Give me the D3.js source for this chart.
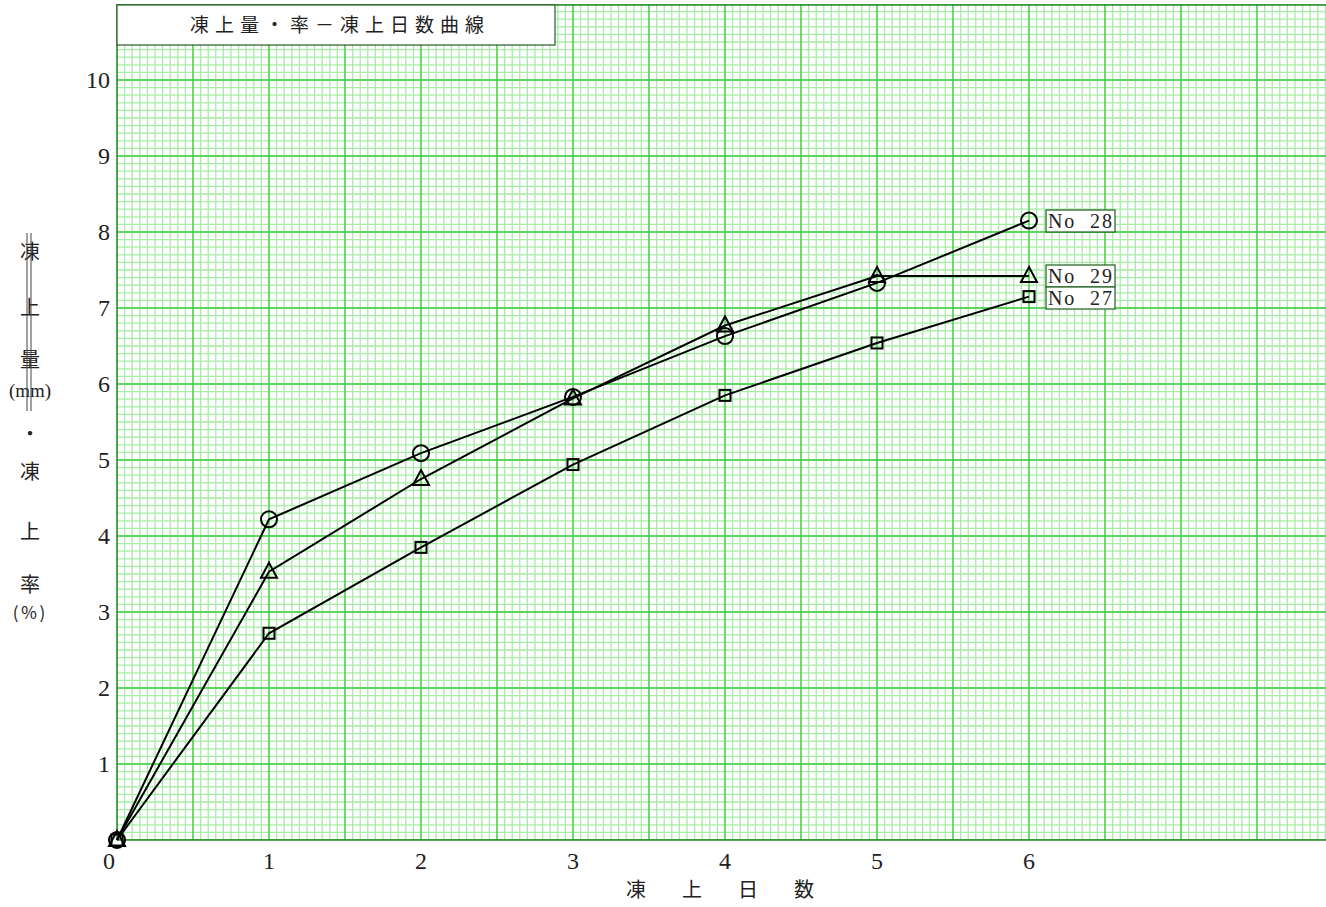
<!DOCTYPE html>
<html>
<head>
<meta charset="utf-8">
<script src="https://cdn.jsdelivr.net/npm/d3@7"></script>
<style>
  body { margin: 0; background: #fff; }
  svg text { font-family: "Liberation Serif", "DejaVu Serif", "Noto Sans CJK JP", serif; fill: #222; }
  svg text.jp { font-family: "Noto Sans CJK JP", sans-serif; }
</style>
</head>
<body>
<div id="chart"></div>
<script>
// days on the x axis
const days = [0, 1, 2, 3, 4, 5, 6];
// heave (mm) / heave ratio (%) per sample
const no28 = [0, 4.22, 5.09, 5.83, 6.63, 7.33, 8.15];
const no29 = [0, 3.53, 4.75, 5.81, 6.77, 7.42, 7.42];
const no27 = [0, 2.72, 3.85, 4.94, 5.85, 6.54, 7.15];
const xTicks = [0, 1, 2, 3, 4, 5, 6];
const yTicks = [1, 2, 3, 4, 5, 6, 7, 8, 9, 10];
const seriesNames = ["No 28", "No 29", "No 27"];

const W = 1326, H = 907;
const left = 117, bottom = 840;

const svg = d3.select("#chart").append("svg")
  .attr("width", W).attr("height", H);

const x = d3.scaleLinear().domain([0, 8]).range([left, left + 8 * 152]);
const y = d3.scaleLinear().domain([0, 11]).range([bottom, bottom - 11 * 76]);

svg.append("clipPath").attr("id", "plotclip")
  .append("rect").attr("x", left).attr("y", y(11)).attr("width", W - left).attr("height", bottom - y(11));

const grid = svg.append("g").attr("clip-path", "url(#plotclip)");

// minor grid: 0.05 day, 0.1 units
const xMinor = d3.range(0, 161).map(i => i * 0.05);
const yMinor = d3.range(0, 111).map(i => i * 0.1);
grid.selectAll(".vmin").data(xMinor).join("line")
  .attr("x1", d => x(d)).attr("x2", d => x(d))
  .attr("y1", y(11)).attr("y2", bottom)
  .attr("stroke", "#a6eca6").attr("stroke-width", 1.3);
grid.selectAll(".hmin").data(yMinor).join("line")
  .attr("y1", d => y(d)).attr("y2", d => y(d))
  .attr("x1", left).attr("x2", W)
  .attr("stroke", "#a6eca6").attr("stroke-width", 1.3);

// major grid: 0.5 day, 1 unit
const xMajor = d3.range(0, 17).map(i => i * 0.5);
const yMajor = d3.range(0, 12);
grid.selectAll(".vmaj").data(xMajor).join("line")
  .attr("x1", d => x(d)).attr("x2", d => x(d))
  .attr("y1", y(11)).attr("y2", bottom)
  .attr("stroke", "#40cc40").attr("stroke-width", 1.3);
grid.selectAll(".hmaj").data(yMajor).join("line")
  .attr("y1", d => y(d)).attr("y2", d => y(d))
  .attr("x1", left).attr("x2", W)
  .attr("stroke", "#40cc40").attr("stroke-width", 1.3);

// frame lines
svg.append("line").attr("x1", left).attr("x2", W).attr("y1", y(11) + 1).attr("y2", y(11) + 1)
  .attr("stroke", "#2a8a2a").attr("stroke-width", 1.5);
svg.append("line").attr("x1", left).attr("x2", W).attr("y1", bottom).attr("y2", bottom)
  .attr("stroke", "#2a8a2a").attr("stroke-width", 1.5);
svg.append("line").attr("x1", left).attr("x2", left).attr("y1", y(11)).attr("y2", bottom)
  .attr("stroke", "#2a8a2a").attr("stroke-width", 1.5);

// title box
svg.append("rect").attr("x", left).attr("y", 5).attr("width", 438).attr("height", 40)
  .attr("fill", "#fff").attr("stroke", "#2a5a2a").attr("stroke-width", 1.2);
svg.append("text").attr("class", "jp").attr("x", 340).attr("y", 32)
  .attr("text-anchor", "middle").attr("font-size", 19).attr("letter-spacing", 6)
  .text("凍上量・率－凍上日数曲線");

// tick labels
svg.selectAll(".ylab").data(yTicks).join("text")
  .attr("x", 110).attr("y", d => y(d) + 8)
  .attr("text-anchor", "end").attr("font-size", 24)
  .text(d => d);
svg.selectAll(".xlab").data(xTicks).join("text")
  .attr("x", d => d === 0 ? x(d) - 8 : x(d))
  .attr("y", 869)
  .attr("text-anchor", "middle").attr("font-size", 24)
  .text(d => d);

// x axis title
const xTitle = ["凍", "上", "日", "数"];
svg.selectAll(".xt").data(xTitle).join("text")
  .attr("class", "jp")
  .attr("x", (d, i) => 636 + i * 56).attr("y", 897)
  .attr("text-anchor", "middle").attr("font-size", 20)
  .text(d => d);

// y axis title, stacked vertically
const yTitle = [["凍", 252], ["上", 308], ["量", 360], ["・", 434], ["凍", 472], ["上", 532], ["率", 585]];
svg.selectAll(".yt").data(yTitle).join("text")
  .attr("class", "jp")
  .attr("x", 30).attr("y", d => d[1] + 7)
  .attr("text-anchor", "middle").attr("font-size", 20)
  .text(d => d[0]);
svg.append("text").attr("x", 30).attr("y", 397)
  .attr("text-anchor", "middle").style("font-size", "19px")
  .text("(mm)");
svg.append("text").attr("class", "jp").attr("x", 30).attr("y", 619)
  .attr("text-anchor", "middle").style("font-size", "17px").attr("letter-spacing", 2)
  .text("(％)");
svg.append("line").attr("x1", 27).attr("x2", 27).attr("y1", 233).attr("y2", 411).attr("stroke", "#444").attr("stroke-width", 1);
svg.append("line").attr("x1", 31).attr("x2", 31).attr("y1", 233).attr("y2", 411).attr("stroke", "#444").attr("stroke-width", 1);

// series
const series = [
  { name: seriesNames[0], values: no28, shape: "circle" },
  { name: seriesNames[1], values: no29, shape: "triangle" },
  { name: seriesNames[2], values: no27, shape: "square" }
];
const line = d3.line().x((d, i) => x(days[i])).y(d => y(d));

series.forEach(s => {
  svg.append("path").datum(s.values)
    .attr("fill", "none").attr("stroke", "#000").attr("stroke-width", 2)
    .attr("d", line);

  const g = svg.append("g");
  s.values.forEach((v, i) => {
    const cx = x(days[i]), cy = y(v);
    if (s.shape === "circle") {
      g.append("circle").attr("cx", cx).attr("cy", cy).attr("r", 8)
        .attr("fill", "none").attr("stroke", "#000").attr("stroke-width", 2);
    } else if (s.shape === "triangle") {
      g.append("path")
        .attr("d", `M${cx},${cy - 9}L${cx + 8},${cy + 6}L${cx - 8},${cy + 6}Z`)
        .attr("fill", "none").attr("stroke", "#000").attr("stroke-width", 2);
    } else {
      g.append("rect").attr("x", cx - 5.5).attr("y", cy - 5.5).attr("width", 11).attr("height", 11)
        .attr("fill", "none").attr("stroke", "#000").attr("stroke-width", 2);
    }
  });
});

// series labels at the right end
const labelY = [221, 276, 298];
series.forEach((s, i) => {
  const cy = labelY[i];
  svg.append("rect").attr("x", 1046).attr("y", cy - 11).attr("width", 69).attr("height", 22)
    .attr("fill", "#fff").attr("stroke", "#1e5e1e").attr("stroke-width", 1.2);
  svg.append("text").attr("x", 1048).attr("y", cy + 7)
    .attr("font-size", 20).attr("textLength", 64)
    .attr("xml:space", "preserve")
    .text(s.name.replace(" ", "  "));
});
</script>
</body>
</html>
